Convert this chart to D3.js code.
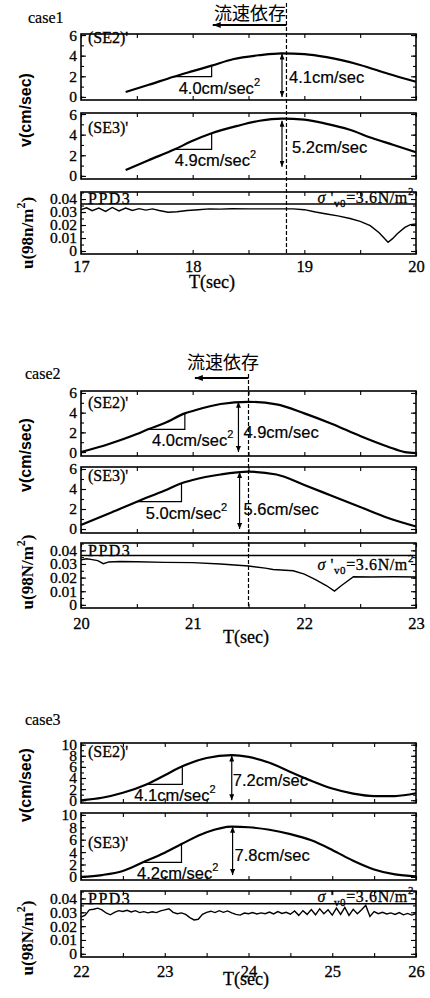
<!DOCTYPE html>
<html>
<head>
<meta charset="utf-8">
<script src="https://cdn.jsdelivr.net/npm/d3@7/dist/d3.min.js"></script>
<style>
	body{ margin:0; background:#fff; }
	svg{ display:block; }
</style>
</head>
<body>
<svg id="vis" width="430" height="998"></svg>
<script>
// ---- values ----
// [T(sec), v(cm/sec)]
var case1_SE2 = [[17.4,0.48],[17.6,1.15],[17.83,1.96],[18.0,2.5],[18.17,3.03],[18.36,3.65],[18.6,4.05],[18.8,4.23],[19.0,4.15],[19.2,3.85],[19.5,3.1],[19.75,2.25],[20.0,1.47]];
var case1_SE3 = [[17.4,0.57],[17.6,1.5],[17.84,2.58],[18.0,3.4],[18.17,4.13],[18.4,4.85],[18.6,5.35],[18.8,5.55],[19.0,5.45],[19.2,5.05],[19.4,4.5],[19.6,3.7],[19.8,3.0],[20.0,2.29]];
var case2_SE2 = [[20.0,0.0],[20.25,0.82],[20.5,1.83],[20.6,2.31],[20.75,2.95],[20.93,3.93],[21.0,4.17],[21.25,4.88],[21.5,5.1],[21.75,4.85],[22.0,3.93],[22.25,2.85],[22.5,1.63],[22.75,0.54],[22.9,0.0],[23.0,-0.1]];
var case2_SE3 = [[20.0,0.4],[20.25,1.55],[20.5,2.73],[20.75,3.85],[20.9,4.57],[21.0,4.9],[21.25,5.45],[21.5,5.73],[21.75,5.45],[22.0,4.4],[22.25,3.3],[22.5,2.2],[22.75,1.1],[23.0,0.25]];
var case3_SE2 = [[22.0,0.0],[22.25,0.45],[22.5,1.35],[22.78,2.85],[23.0,4.5],[23.21,6.1],[23.5,7.6],[23.8,8.1],[24.0,7.8],[24.25,6.75],[24.5,5.1],[24.75,3.5],[25.0,2.1],[25.25,1.2],[25.5,0.75],[25.75,0.75],[26.0,1.25]];
var case3_SE3 = [[22.0,0.0],[22.25,0.3],[22.5,0.95],[22.74,2.35],[23.0,3.9],[23.2,5.3],[23.5,7.2],[23.8,8.1],[24.0,8.0],[24.25,7.6],[24.5,6.9],[24.75,5.9],[25.0,4.35],[25.25,2.6],[25.5,1.2],[25.75,0.4],[26.0,0.1]];

// [T(sec), u(98N/m2)]
var case1_PPD3 = [[17.00,0.0318],[17.05,0.0332],[17.10,0.0310],[17.16,0.0330],[17.22,0.0305],[17.28,0.0335],[17.34,0.0308],[17.40,0.0330],[17.46,0.0312],[17.52,0.0326],[17.58,0.0315],[17.64,0.0324],[17.70,0.0312],[17.78,0.0298],[17.86,0.0302],[17.95,0.0312],[18.05,0.0318],[18.15,0.0324],[18.25,0.0322],[18.35,0.0325],[18.50,0.0324],[18.70,0.0324],[18.90,0.0324],[19.00,0.0318],[19.10,0.0300],[19.20,0.0285],[19.30,0.0270],[19.41,0.0250],[19.50,0.0228],[19.59,0.0195],[19.67,0.0140],[19.75,0.0067],[19.79,0.0095],[19.83,0.0131],[19.90,0.0182],[19.95,0.0203],[20.00,0.0208]];
var case2_PPD3 = [[20.00,0.0330],[20.05,0.0338],[20.10,0.0332],[20.15,0.0325],[20.20,0.0302],[20.25,0.0315],[20.35,0.0318],[20.50,0.0316],[20.75,0.0312],[21.00,0.0310],[21.25,0.0300],[21.50,0.0285],[21.65,0.0270],[21.72,0.0260],[21.90,0.0250],[22.00,0.0225],[22.10,0.0185],[22.20,0.0140],[22.27,0.0101],[22.33,0.0140],[22.44,0.0206],[22.60,0.0205],[22.80,0.0206],[23.00,0.0205]];
var case3_PPD3 = [[22.00,0.0265],[22.05,0.0280],[22.10,0.0318],[22.15,0.0322],[22.20,0.0330],[22.25,0.0318],[22.30,0.0295],[22.35,0.0282],[22.40,0.0300],[22.45,0.0312],[22.50,0.0306],[22.55,0.0315],[22.60,0.0303],[22.65,0.0312],[22.70,0.0298],[22.75,0.0305],[22.80,0.0296],[22.85,0.0304],[22.90,0.0298],[22.95,0.0310],[23.00,0.0318],[23.05,0.0326],[23.10,0.0300],[23.15,0.0290],[23.20,0.0296],[23.25,0.0285],[23.30,0.0262],[23.35,0.0245],[23.40,0.0250],[23.45,0.0285],[23.50,0.0300],[23.55,0.0308],[23.60,0.0298],[23.65,0.0312],[23.70,0.0300],[23.75,0.0310],[23.80,0.0296],[23.85,0.0285],[23.90,0.0280],[23.95,0.0295],[24.00,0.0290],[24.05,0.0298],[24.10,0.0288],[24.15,0.0296],[24.20,0.0290],[24.25,0.0302],[24.30,0.0288],[24.35,0.0305],[24.40,0.0292],[24.45,0.0300],[24.50,0.0286],[24.55,0.0310],[24.60,0.0278],[24.65,0.0312],[24.70,0.0285],[24.75,0.0320],[24.80,0.0282],[24.85,0.0325],[24.90,0.0290],[24.95,0.0318],[25.00,0.0280],[25.05,0.0330],[25.10,0.0285],[25.15,0.0335],[25.20,0.0278],[25.25,0.0322],[25.30,0.0290],[25.35,0.0318],[25.40,0.0350],[25.45,0.0270],[25.50,0.0305],[25.55,0.0290],[25.60,0.0300],[25.65,0.0288],[25.70,0.0296],[25.75,0.0285],[25.80,0.0298],[25.85,0.0282],[25.90,0.0292],[25.95,0.0280],[26.00,0.0290]];

// slope triangles [T start, T end, v low, v high] and peak arrows [T, v top, v bottom]
var case1_slope = [[17.83,18.17,1.96,3.03],[17.84,18.17,2.58,4.13]];
var case2_slope = [[20.6,20.93,2.31,3.93],[20.5,20.9,2.73,4.57]];
var case3_slope = [[22.78,23.21,2.85,6.1],[22.74,23.2,2.35,5.3]];
var case1_peak = [[18.80,4.2,0.0],[18.80,5.35,0.89]];
var case2_peak = [[21.41,5.1,0.0],[21.42,5.7,0.0]];
var case3_peak = [[23.80,8.05,0.0],[23.81,8.1,0.3]];

var case1_slopeTxt = ["4.0","4.9"], case1_peakTxt = ["4.1","5.2"];
var case2_slopeTxt = ["4.0","5.0"], case2_peakTxt = ["4.9","5.6"];
var case3_slopeTxt = ["4.1","4.2"], case3_peakTxt = ["7.2","7.8"];

var case1_xTicks = [17,18,19,20];
var case2_xTicks = [20,21,22,23];
var case3_xTicks = [22,23,24,25,26];
var vTicks6 = [0,2,4,6];
var vTicks10 = [0,2,4,6,8,10];
var uTicks = [0,0.01,0.02,0.03,0.04];

var sigmaV0 = 3.6;          // N/m2
var sigmaLine = 0.0362;     // same, in 98N/m2 as drawn
var case1_marker = 18.84, case2_marker = 21.5;
var seNames = ["(SE2)'","(SE3)'"];

var serif = '"Liberation Serif", "Times New Roman", serif';
var sans = '"Liberation Sans", Arial, sans-serif';
var cjk = '"Noto Sans CJK JP", "Noto Sans CJK SC", sans-serif';

var cases = [
	{ name:"case1", uLab:"u(98n/m", xDomain:[17,20], xTicks:case1_xTicks, vTicks:vTicks6, vDomain:[-0.3,6.1],
	  se:[case1_SE2,case1_SE3], ppd:case1_PPD3, slope:case1_slope, peak:case1_peak,
	  slopeTxt:case1_slopeTxt, peakTxt:case1_peakTxt, marker:case1_marker, arrowTo:18.18,
	  rows:[[34,100],[113,179],[192,254]], nameDy:[9,20], slopeDx:[5,0], peakDx:[7,10],
	  tickBase:271, tTitle:[212,288], caseAt:[28,23], titleAt:[250,20], arrowY:25, dashTop:3,
	  vLabY:110, uLabY:233, sigmaBase:203 },
	{ name:"case2", uLab:"u(98N/m", xDomain:[20,23], xTicks:case2_xTicks, vTicks:vTicks6, vDomain:[-0.4,6.2],
	  se:[case2_SE2,case2_SE3], ppd:case2_PPD3, slope:case2_slope, peak:case2_peak,
	  slopeTxt:case2_slopeTxt, peakTxt:case2_peakTxt, marker:case2_marker, arrowTo:21.02,
	  rows:[[391,456],[467,533],[543,608]], nameDy:[17,14], slopeDx:[4,9], peakDx:[5,4],
	  tickBase:628, tTitle:[246,643], caseAt:[25,379], titleAt:[223,369], arrowY:378, dashTop:374,
	  vLabY:455, uLabY:572, sigmaBase:570 },
	{ name:"case3", uLab:"u(98N/m", xDomain:[22,26], xTicks:case3_xTicks, vTicks:vTicks10, vDomain:[-0.5,10.3],
	  se:[case3_SE2,case3_SE3], ppd:case3_PPD3, slope:case3_slope, peak:case3_peak,
	  slopeTxt:case3_slopeTxt, peakTxt:case3_peakTxt, marker:null,
	  rows:[[743,803],[813,880],[891,957]], nameDy:[14,35], slopeDx:[-12,-6], peakDx:[1,2],
	  tickBase:976, tTitle:[246,985], caseAt:[25,725],
	  vLabY:785, uLabY:938, sigmaBase:902 }
];

var svg = d3.select("#vis");
var defs = svg.append("defs");
defs.append("marker").attr("id","head")
	.attr("viewBox","0 0 10 10").attr("refX",10).attr("refY",5)
	.attr("markerWidth",6).attr("markerHeight",5)
	.attr("markerUnits","userSpaceOnUse")
	.attr("preserveAspectRatio","none")
	.attr("orient","auto-start-reverse")
	.append("path").attr("d","M0,0L10,5L0,10z").attr("fill","#000");
defs.append("marker").attr("id","bighead")
	.attr("viewBox","0 0 10 10").attr("refX",10).attr("refY",5)
	.attr("markerWidth",8).attr("markerHeight",6)
	.attr("markerUnits","userSpaceOnUse")
	.attr("preserveAspectRatio","none")
	.attr("orient","auto")
	.append("path").attr("d","M0,0L10,5L0,10z").attr("fill","#000");

// scanned print is heavy, thicken the glyphs a little
function ink(sel, w){
	sel.attr("stroke","#000").attr("stroke-width",w || 0.3);
}

function tidy(g){
	g.select(".domain").remove();
	g.selectAll(".tick line").attr("stroke","#000").attr("stroke-width",1.1);
	g.attr("font-family",serif).attr("font-size",15.5);
	g.selectAll("text").attr("fill","#000").call(ink);
}

function frame(g, x, y, major, minor, fmt, halfs){
	var x0 = x.range()[0], x1 = x.range()[1];
	var yb = y.range()[0], yt = y.range()[1];
	g.append("g").attr("transform","translate(0,"+yb+")")
		.call(d3.axisBottom(x).tickValues(halfs).tickSize(-4).tickFormat("")).call(tidy);
	g.append("g").attr("transform","translate(0,"+yt+")")
		.call(d3.axisTop(x).tickValues(halfs).tickSize(-4).tickFormat("")).call(tidy);
	g.append("g").attr("transform","translate("+x0+",0)")
		.call(d3.axisLeft(y).tickValues(minor).tickSize(-3).tickFormat("")).call(tidy);
	g.append("g").attr("transform","translate("+x1+",0)")
		.call(d3.axisRight(y).tickValues(minor).tickSize(-3).tickFormat("")).call(tidy);
	g.append("g").attr("transform","translate("+x1+",0)")
		.call(d3.axisRight(y).tickValues(major).tickSize(-5).tickFormat("")).call(tidy);
	g.append("g").attr("transform","translate("+x0+",0)")
		.call(d3.axisLeft(y).tickValues(major).tickSize(-5).tickPadding(4).tickFormat(fmt)).call(tidy);
	g.append("rect").attr("x",x0).attr("y",yt).attr("width",x1-x0).attr("height",yb-yt)
		.attr("fill","none").attr("stroke","#000").attr("stroke-width",1.6);
}

var uFmt = function(d){ return d === 0 ? "0" : d3.format(".2f")(d); };

cases.forEach(function(c){
	var g = svg.append("g");
	var x = d3.scaleLinear().domain(c.xDomain).range([81,416]);
	var halfs = d3.range(c.xDomain[0], c.xDomain[1]+0.01, 0.5);
	var vMinor = d3.range(0, c.vTicks[c.vTicks.length-1]+0.01, 1);

	// velocity panels
	c.se.forEach(function(series, i){
		var y = d3.scaleLinear().domain(c.vDomain).range([c.rows[i][1], c.rows[i][0]]);
		frame(g, x, y, c.vTicks, vMinor, d3.format("d"), halfs);

		g.append("path").datum(series)
			.attr("fill","none").attr("stroke","#000").attr("stroke-width",2.2)
			.attr("d", d3.line().curve(d3.curveMonotoneX)
				.x(function(d){ return x(d[0]); })
				.y(function(d){ return y(d[1]); }));

		g.append("text").attr("x",88).attr("y",c.rows[i][0]+c.nameDy[i])
			.attr("font-family",serif).attr("font-size",16).text(seNames[i]).call(ink);

		// slope triangle
		var s = c.slope[i];
		g.append("path")
			.attr("d","M"+x(s[0])+","+y(s[2])+"H"+x(s[1])+"V"+y(s[3]))
			.attr("fill","none").attr("stroke","#000").attr("stroke-width",1.2);
		var st = g.append("text").attr("x",x(s[0])+c.slopeDx[i]).attr("y",y(s[2])+17)
			.attr("font-family",sans).attr("font-size",16.5).call(ink, 0.2);
		st.append("tspan").text(c.slopeTxt[i]+"cm/sec");
		st.append("tspan").attr("dy",-8).attr("font-size",11).text("2");

		// peak arrow
		var p = c.peak[i];
		g.append("line").attr("x1",x(p[0])).attr("x2",x(p[0]))
			.attr("y1",y(p[1])).attr("y2",y(p[2]))
			.attr("stroke","#000").attr("stroke-width",1.2)
			.attr("marker-start","url(#head)").attr("marker-end","url(#head)");
		g.append("text").attr("x",x(p[0])+c.peakDx[i]).attr("y",y(p[2])-14)
			.attr("font-family",sans).attr("font-size",16.5).text(c.peakTxt[i]+"cm/sec").call(ink, 0.2);
	});

	// pore pressure panel
	var yu = d3.scaleLinear().domain([-0.0023,0.0454]).range([c.rows[2][1], c.rows[2][0]]);
	frame(g, x, yu, uTicks, d3.range(0,0.0451,0.005), uFmt, halfs);

	g.append("line").attr("x1",81).attr("x2",416)
		.attr("y1",yu(sigmaLine)).attr("y2",yu(sigmaLine))
		.attr("stroke","#000").attr("stroke-width",1.4);
	g.append("path").datum(c.ppd)
		.attr("fill","none").attr("stroke","#000").attr("stroke-width",1.4)
		.attr("d", d3.line()
			.x(function(d){ return x(d[0]); })
			.y(function(d){ return yu(d[1]); }));
	g.append("text").attr("x",88).attr("y",yu(sigmaLine))
		.attr("font-family",serif).attr("font-size",16).attr("letter-spacing",1.5).text("PPD3").call(ink);

	var sg = g.append("text").attr("x",414).attr("y",c.sigmaBase).attr("text-anchor","end")
		.attr("font-family",serif).attr("font-size",16).attr("letter-spacing",0.6).call(ink);
	sg.append("tspan").attr("font-style","italic").text("σ");
	sg.append("tspan").text(" '");
	sg.append("tspan").attr("font-size",11).attr("dy",4).text("v0");
	sg.append("tspan").attr("dy",-4).text("="+sigmaV0+"N/m");
	sg.append("tspan").attr("font-size",11).attr("dy",-8).text("2");

	// time axis labels
	var xa = g.append("g").attr("transform","translate(0,"+c.rows[2][1]+")")
		.call(d3.axisBottom(x).tickValues(c.xTicks).tickSize(0).tickPadding(c.tickBase-c.rows[2][1]-11).tickFormat(d3.format("d")))
		.call(tidy);
	xa.selectAll("text").attr("font-size",16.5);
	g.append("text").attr("x",c.tTitle[0]).attr("y",c.tTitle[1]).attr("text-anchor","middle")
		.attr("font-family",serif).attr("font-size",18).text("T(sec)").call(ink);

	// axis titles
	g.append("text").attr("transform","translate(31,"+c.vLabY+") rotate(-90)")
		.attr("text-anchor","middle").attr("font-family",sans).attr("font-weight","bold")
		.attr("font-size",16).text("v(cm/sec)");
	var ul = g.append("text").attr("transform","translate(33,"+c.uLabY+") rotate(-90)")
		.attr("text-anchor","middle").attr("font-family",serif).attr("font-weight","bold")
		.attr("font-size",17);
	ul.append("tspan").text(c.uLab);
	ul.append("tspan").attr("dy",-8).attr("font-size",12).text("2");
	ul.append("tspan").attr("dy",8).text(")");

	g.append("text").attr("x",c.caseAt[0]).attr("y",c.caseAt[1])
		.attr("font-family",serif).attr("font-size",16).text(c.name).call(ink, 0.2);

	// 流速依存 marker
	if(c.marker !== null){
		var xm = x(c.marker);
		g.append("line").attr("x1",xm).attr("x2",xm).attr("y1",c.dashTop).attr("y2",c.rows[2][1])
			.attr("stroke","#000").attr("stroke-width",1.2).attr("stroke-dasharray","4,2");
		g.append("text").attr("x",c.titleAt[0]).attr("y",c.titleAt[1]).attr("text-anchor","middle")
			.attr("font-family",cjk).attr("font-size",18).text("流速依存");
		g.append("line").attr("x1",xm).attr("x2",x(c.arrowTo))
			.attr("y1",c.arrowY).attr("y2",c.arrowY)
			.attr("stroke","#000").attr("stroke-width",1.8).attr("marker-end","url(#bighead)");
	}
});
</script>
</body>
</html>
